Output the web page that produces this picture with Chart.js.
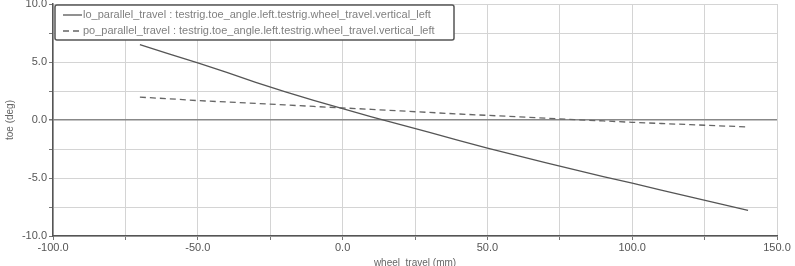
<!DOCTYPE html>
<html>
<head>
<meta charset="utf-8">
<script src="https://cdn.jsdelivr.net/npm/chart.js@4.4.1/dist/chart.umd.min.js"></script>
<style>
  html, body { margin: 0; padding: 0; background: #fff; }
  #wrap { width: 795px; height: 266px; }
</style>
</head>
<body>
<div id="wrap"><canvas id="toeChart" width="795" height="266"></canvas></div>
<script>
// wheel travel (mm) sample positions
const wheelTravel = [-70, -60, -50, -40, -30, -20, -10, 0, 10, 20, 30, 40, 50, 60, 70, 80, 90, 100, 110, 120, 130, 140];
// toe (deg)
const loParallel = [6.5, 5.7, 4.93, 4.1, 3.25, 2.45, 1.7, 0.97, 0.28, -0.4, -1.07, -1.75, -2.42, -3.05, -3.67, -4.28, -4.88, -5.45, -6.05, -6.62, -7.2, -7.8];
const poParallel = [1.97, 1.83, 1.67, 1.55, 1.43, 1.3, 1.17, 1.04, 0.92, 0.78, 0.65, 0.52, 0.4, 0.28, 0.16, 0.03, -0.08, -0.2, -0.3, -0.4, -0.5, -0.6];
const seriesNames = [
    'lo_parallel_travel : testrig.toe_angle.left.testrig.wheel_travel.vertical_left',
    'po_parallel_travel : testrig.toe_angle.left.testrig.wheel_travel.vertical_left'
];

const toPoints = (ys) => wheelTravel.map((x, i) => ({ x: x, y: ys[i] }));

// legend box drawn inside the plot, top-left
const boxLegend = {
    id: 'boxLegend',
    afterDraw(chart) {
        const ctx = chart.ctx;
        const area = chart.chartArea;
        const x0 = area.left + 2, y0 = area.top + 1, w = 399, h = 35;
        ctx.save();
        ctx.fillStyle = '#fff';
        ctx.strokeStyle = '#555';
        ctx.lineWidth = 1.5;
        ctx.beginPath();
        ctx.roundRect(x0, y0, w, h, 2);
        ctx.fill();
        ctx.stroke();
        ctx.font = '11px "Liberation Sans", Arial, sans-serif';
        ctx.textBaseline = 'middle';
        chart.data.datasets.forEach((ds, i) => {
            const ly = y0 + 10 + i * 16;
            ctx.strokeStyle = ds.borderColor;
            ctx.lineWidth = 1.3;
            ctx.setLineDash(ds.borderDash || []);
            ctx.beginPath();
            ctx.moveTo(x0 + 8, ly);
            ctx.lineTo(x0 + 27, ly);
            ctx.stroke();
            ctx.setLineDash([]);
            ctx.fillStyle = '#808080';
            ctx.fillText(seriesNames[i], x0 + 28, ly);
        });
        ctx.restore();
    }
};

const ctx1 = document.getElementById('toeChart').getContext('2d');
const toeChart = new Chart(ctx1, {
    type: 'scatter',
    data: {
        datasets: [{
            label: seriesNames[0],
            data: toPoints(loParallel),
            showLine: true,
            borderColor: '#555',
            borderWidth: 1.3,
            pointRadius: 0,
            tension: 0
        }, {
            label: seriesNames[1],
            data: toPoints(poParallel),
            showLine: true,
            borderColor: '#666',
            borderWidth: 1.3,
            borderDash: [6, 4],
            pointRadius: 0,
            tension: 0
        }]
    },
    options: {
        responsive: false,
        animation: false,
        layout: { padding: { top: 4, right: 18, left: 0, bottom: 0 } },
        plugins: {
            legend: { display: false },
            tooltip: { enabled: false }
        },
        scales: {
            x: {
                type: 'linear',
                min: -100,
                max: 150,
                afterFit: (scale) => { scale.height = 30; },
                ticks: {
                    stepSize: 25,
                    autoSkip: false,
                    maxRotation: 0,
                    color: '#555',
                    padding: 1,
                    font: { family: '"Liberation Sans", Arial, sans-serif', size: 11 },
                    callback: (v) => (v % 50 === 0 ? v.toFixed(1) : '')
                },
                grid: { color: '#d4d4d4', tickColor: '#777', tickLength: 4 },
                border: { color: '#555', width: 1.5 },
                title: {
                    display: true,
                    text: 'wheel_travel (mm)',
                    color: '#666',
                    padding: { top: 0, bottom: -3 },
                    font: { family: '"Liberation Sans", Arial, sans-serif', size: 10 }
                }
            },
            y: {
                type: 'linear',
                min: -10,
                max: 10,
                afterFit: (scale) => {
                    scale.width = 53;
                    scale.paddingTop = 0;
                    scale.paddingBottom = 0;
                },
                ticks: {
                    stepSize: 2.5,
                    autoSkip: false,
                    color: '#555',
                    padding: 2,
                    font: { family: '"Liberation Sans", Arial, sans-serif', size: 11 },
                    callback: (v) => (v % 5 === 0 ? v.toFixed(1) : '')
                },
                grid: {
                    color: (c) => (c.tick && c.tick.value === 0 ? '#888' : '#d4d4d4'),
                    lineWidth: (c) => (c.tick && c.tick.value === 0 ? 1.5 : 1),
                    tickColor: '#777',
                    tickLength: 4
                },
                border: { color: '#555', width: 1.5 },
                title: {
                    display: true,
                    text: 'toe (deg)',
                    color: '#666',
                    padding: { top: 4, bottom: 0 },
                    font: { family: '"Liberation Sans", Arial, sans-serif', size: 10 }
                }
            }
        }
    },
    plugins: [boxLegend]
});
</script>
</body>
</html>
